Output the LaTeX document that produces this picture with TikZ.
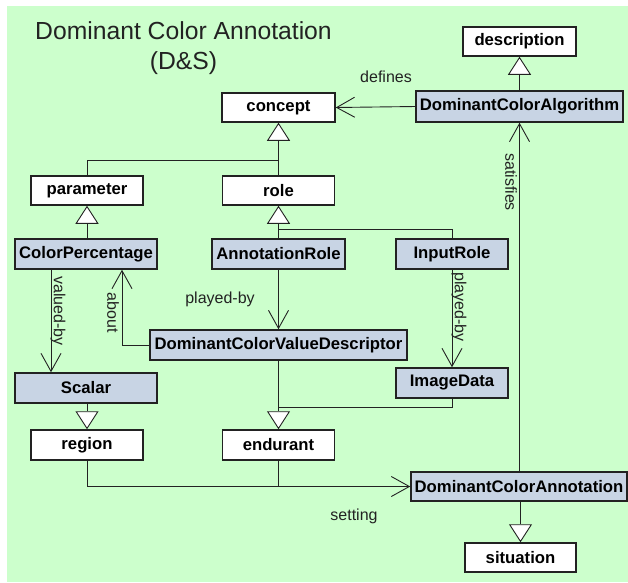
\documentclass[tikz,border=0pt]{standalone}
\usepackage{fontspec}
\setmainfont{Liberation Sans}
\usetikzlibrary{arrows.meta}
\definecolor{bg}{HTML}{CCFFCC}
\definecolor{boxblue}{HTML}{C8D4E4}
\definecolor{ink}{HTML}{222222}
\tikzset{
  cls/.style={draw=ink, line width=1.5pt, fill=white, minimum height=29pt, inner sep=0pt,
              font=\fontsize{16.7}{18}\selectfont\bfseries},
  inst/.style={cls, fill=boxblue},
  lbl/.style={font=\fontsize{16}{18}\selectfont, inner sep=0pt, text=ink},
  conn/.style={draw=ink, line width=0.9pt},
  gen/.style={conn, -{Triangle[width=23pt,length=18pt,fill=white,line width=0.9pt]}},
  assoc/.style={conn, -{Straight Barb[length=18pt,width=20pt,line width=0.9pt]}},
}
\begin{document}
\begin{tikzpicture}[x=1pt,y=-1pt]
\useasboundingbox (0,0) rectangle (628,582);
\fill[bg] (7,6) rectangle (628,582);

% title
\node[align=center, inner sep=0pt, text=ink, font=\fontsize{24.7}{30}\selectfont] (title) at (183.5,48)
  {Dominant Color Annotation\\(D\&S)};

% nodes
\node[cls, minimum width=113pt] (description) at (519.5,41.5) {description};
\node[cls, minimum width=113pt] (concept) at (278.5,107.5) {concept};
\node[inst, minimum width=207pt, minimum height=31pt] (dcalg) at (519.5,106.5) {DominantColorAlgorithm};
\node[cls, minimum width=112pt] (parameter) at (87,190.5) {parameter};
\node[cls, minimum width=112pt] (role) at (278.5,190.5) {role};
\node[inst, minimum width=142pt, minimum height=30pt] (colorpct) at (86,254) {ColorPercentage};
\node[inst, minimum width=133pt, minimum height=30pt] (annrole) at (278.5,254) {AnnotationRole};
\node[inst, minimum width=112pt, minimum height=30pt] (inputrole) at (452,254) {InputRole};
\node[inst, minimum width=257pt, minimum height=30pt] (dcvd) at (278.5,345) {DominantColorValueDescriptor};
\node[inst, minimum width=142pt, minimum height=30pt] (scalar) at (86,388) {Scalar};
\node[inst, minimum width=112pt, minimum height=30pt] (imagedata) at (452,383) {ImageData};
\node[cls, minimum width=112pt, minimum height=30pt] (region) at (87,445) {region};
\node[cls, minimum width=112pt, minimum height=30pt] (endurant) at (278.5,445) {endurant};
\node[inst, minimum width=216pt] (dcann) at (519,486.5) {DominantColorAnnotation};
\node[cls, minimum width=111pt] (situation) at (520.5,557.5) {situation};

% junction coordinates
\coordinate (j1) at (278.5,160);
\coordinate (j2) at (278.5,229);
\coordinate (j3) at (278.5,407);
\coordinate (j4) at (278.5,487);
\coordinate (about) at (122,345);

% generalizations
\draw[gen] (role.north) -- (concept.south);
\draw[conn] (parameter.north) |- (j1);
\draw[gen] (colorpct.north -| parameter.south) -- (parameter.south);
\draw[gen] (annrole.north) -- (role.south);
\draw[conn] (inputrole.north) |- (j2);
\draw[gen] (dcalg.north -| description.south) -- (description.south);
\draw[gen] (dcvd.south) -- (endurant.north);
\draw[conn] (imagedata.south) |- (j3);
\draw[gen] (scalar.south -| region.north) -- (region.north);
\draw[gen] (dcann.south -| situation.north) -- (situation.north);

% associations
\draw[assoc] (dcalg.west) -- (concept.east);
\node[lbl] (defines) at (386,77) {defines};

\draw[assoc] (dcann.north -| dcalg.south) -- (dcalg.south);
\node[lbl, rotate=-90] (satisfies) at (511,182) {satisfies};

\draw[assoc] (colorpct.south -| 51,0) -- (scalar.north -| 51,0);
\node[lbl, rotate=-90] (valuedby) at (58,311) {valued-by};

\draw[assoc] (dcvd.west) -- (about) -- (colorpct.south -| about);
\node[lbl, rotate=-90] (aboutlbl) at (113,313) {about};

\draw[assoc] (annrole.south) -- (dcvd.north);
\node[lbl] (playedby1) at (220,299) {played-by};

\draw[assoc] (inputrole.south) -- (imagedata.north);
\node[lbl, rotate=-90] (playedby2) at (459,307) {played-by};

\draw[conn] (endurant.south) -- (j4);
\draw[assoc] (region.south) |- (dcann.west);
\node[lbl] (setting) at (354,516) {setting};
\end{tikzpicture}
\end{document}
